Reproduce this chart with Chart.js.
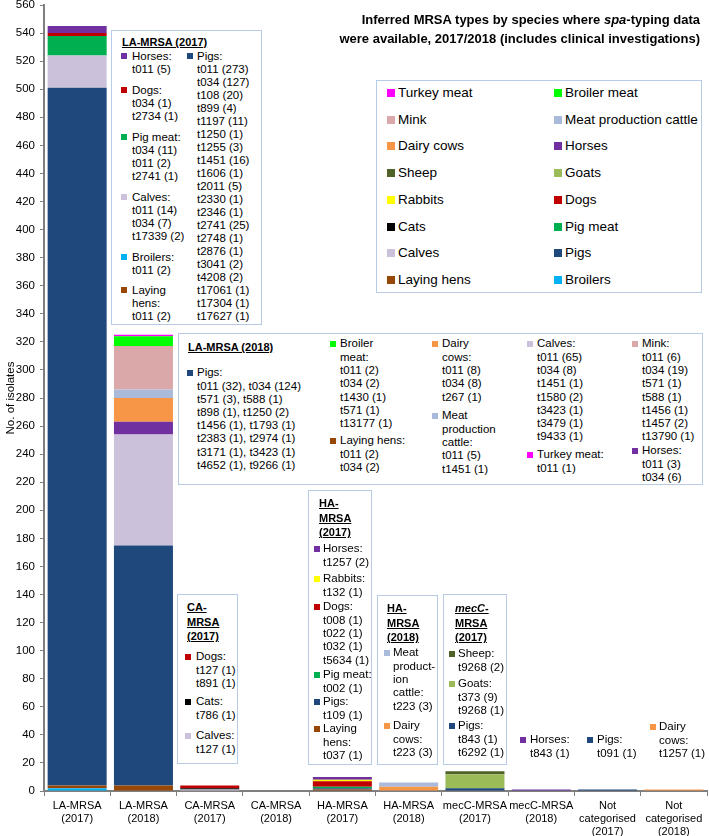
<!DOCTYPE html>
<html lang="en">
<head>
<meta charset="UTF-8">
<title>Inferred MRSA types by species, 2017/2018</title>
<script src="https://cdn.jsdelivr.net/npm/chart.js"></script>
<style>
  body { margin: 0; background: #fff; font-family: 'Liberation Sans', Arial, sans-serif; color: #000; }
  #wrap { position: relative; width: 709px; height: 836px; }
  canvas { position: absolute; left: 0; top: 0; }
  .box { position: absolute; border: 1.5px solid #b8cbe6; background: #fff; box-sizing: border-box; }
  .txt { position: absolute; white-space: nowrap; font-size: 11.5px; }
  .hd { position: absolute; white-space: nowrap; font-size: 11px; font-weight: bold; text-decoration: underline; line-height: 14px; }
  .sw { position: absolute; width: 6px; height: 6px; }
  .lg { position: absolute; white-space: nowrap; font-size: 13.5px; line-height: 16px; }
  .lsw { position: absolute; width: 8px; height: 8px; }
  #title { position: absolute; right: 9px; top: 10px; text-align: right; font-weight: bold; font-size: 13px; line-height: 19px; white-space: nowrap; }
</style>
</head>
<body>
<div id="wrap">
  <canvas id="chart" width="709" height="836"></canvas>
  <div id="title">Inferred MRSA types by species where <i>spa</i>-typing data<br>were available, 2017/2018 (includes clinical investigations)</div>
</div>
<script>
  // categories (x axis)
  const categories = [
    ['LA-MRSA', '(2017)'], ['LA-MRSA', '(2018)'], ['CA-MRSA', '(2017)'], ['CA-MRSA', '(2018)'],
    ['HA-MRSA', '(2017)'], ['HA-MRSA', '(2018)'], ['mecC-MRSA', '(2017)'], ['mecC-MRSA', '(2018)'],
    ['Not', 'categorised', '(2017)'], ['Not', 'categorised', '(2018)']
  ];

  // number of isolates per species (stack order, bottom first)
  const broilers    = [2, 0, 0, 0, 0, 0, 0, 0, 0, 0];
  const layingHens  = [2, 4, 0, 0, 1, 0, 0, 0, 0, 0];
  const pigs        = [497, 171, 0, 0, 1, 0, 2, 0, 1, 0];
  const calves      = [23, 79, 1, 0, 0, 0, 0, 0, 0, 0];
  const pigMeat     = [14, 0, 0, 0, 1, 0, 0, 0, 0, 0];
  const cats        = [0, 0, 1, 0, 0, 0, 0, 0, 0, 0];
  const dogs        = [2, 0, 2, 0, 4, 0, 0, 0, 0, 0];
  const rabbits     = [0, 0, 0, 0, 1, 0, 0, 0, 0, 0];
  const goats       = [0, 0, 0, 0, 0, 0, 10, 0, 0, 0];
  const sheep       = [0, 0, 0, 0, 0, 0, 2, 0, 0, 0];
  const horses      = [5, 9, 0, 0, 2, 0, 0, 1, 0, 0];
  const dairyCows   = [0, 17, 0, 0, 0, 3, 0, 0, 0, 1];
  const meatCattle  = [0, 6, 0, 0, 0, 3, 0, 0, 0, 0];
  const mink        = [0, 31, 0, 0, 0, 0, 0, 0, 0, 0];
  const broilerMeat = [0, 7, 0, 0, 0, 0, 0, 0, 0, 0];
  const turkeyMeat  = [0, 1, 0, 0, 0, 0, 0, 0, 0, 0];

  const yTicks = { min: 0, max: 560, step: 20 };

  const series = [
    ['Broilers', broilers, '#00B0F0'],
    ['Laying hens', layingHens, '#974706'],
    ['Pigs', pigs, '#1F497D'],
    ['Calves', calves, '#CCC1DA'],
    ['Pig meat', pigMeat, '#00B050'],
    ['Cats', cats, '#000000'],
    ['Dogs', dogs, '#C00000'],
    ['Rabbits', rabbits, '#FFFF00'],
    ['Goats', goats, '#9BBB59'],
    ['Sheep', sheep, '#4F6228'],
    ['Horses', horses, '#7030A0'],
    ['Dairy cows', dairyCows, '#F79646'],
    ['Meat production cattle', meatCattle, '#A9BADB'],
    ['Mink', mink, '#DAA8A8'],
    ['Broiler meat', broilerMeat, '#00FF00'],
    ['Turkey meat', turkeyMeat, '#FF00FF']
  ];
  const colorOf = {};
  series.forEach(s => { colorOf[s[0]] = s[2]; });

  const font = "'Liberation Sans', Arial, sans-serif";
  const axisGrey = '#7f7f7f';

  const chart = new Chart(document.getElementById('chart'), {
    type: 'bar',
    data: {
      labels: categories,
      datasets: series.map(([label, data, color]) => ({
        label, data, backgroundColor: color, borderWidth: 0,
        barPercentage: 0.89, categoryPercentage: 1
      }))
    },
    options: {
      responsive: false,
      animation: false,
      layout: { padding: { top: 5, right: 2, left: 0, bottom: 0 } },
      plugins: { legend: { display: false }, tooltip: { enabled: false } },
      scales: {
        x: {
          stacked: true,
          grid: { drawOnChartArea: false, drawTicks: true, tickLength: 5, color: axisGrey, offset: true },
          border: { display: true, color: axisGrey, width: 2 },
          ticks: { color: '#000', font: { family: font, size: 11, lineHeight: 1.2 }, maxRotation: 0, autoSkip: false, padding: 3 },
          afterFit: s => { s.height = 45; }
        },
        y: {
          stacked: true,
          min: yTicks.min, max: yTicks.max,
          ticks: { stepSize: yTicks.step, color: '#000', font: { family: font, size: 11.5 }, padding: 5 },
          grid: { drawOnChartArea: false, drawTicks: true, tickLength: 4, color: axisGrey },
          border: { display: true, color: axisGrey, width: 2 },
          title: { display: true, text: 'No. of isolates', color: '#000', font: { family: font, size: 11.5 }, padding: { top: 4, bottom: 0 } },
          afterFit: s => { s.width = 44; s.paddingTop = 0; s.paddingBottom = 0; }
        }
      }
    }
  });

  // ---- overlays: legend + text boxes ----
  const wrap = document.getElementById('wrap');
  function el(cls, x, y, html) {
    const d = document.createElement('div');
    d.className = cls;
    d.style.left = x + 'px';
    d.style.top = y + 'px';
    if (html !== undefined) d.innerHTML = html;
    wrap.appendChild(d);
    return d;
  }
  function box(x, y, w, h) {
    const d = el('box', x, y);
    d.style.width = w + 'px';
    d.style.height = h + 'px';
  }
  function heading(x, y, lines) {
    lines.forEach((t, i) => el('hd', x, y + i * 14.5 - 7, t));
  }
  // groups: [species, y of first line, ...lines]
  function block(sx, tx, groups, lh) {
    lh = lh || 13.3;
    groups.forEach(([name, y, ...lines]) => {
      const s = el('sw', sx, y - 3);
      s.style.background = colorOf[name];
      lines.forEach((t, i) => {
        const d = el('txt', tx, y + i * lh - lh / 2, t);
        d.style.lineHeight = lh + 'px';
      });
    });
  }

  // legend (reverse series order, two columns)
  box(376, 80, 326, 213);
  series.slice().reverse().forEach(([label, , color], i) => {
    const col = i % 2, row = Math.floor(i / 2);
    const cy = 93 + row * 26.7;
    const sx = col ? 554 : 387;
    const s = el('lsw', sx, cy - 4);
    s.style.background = color;
    el('lg', sx + 11, cy - 8, label);
  });

  // LA-MRSA (2017)
  box(111, 30, 151, 295);
  heading(122, 42, ['LA-MRSA (2017)']);
  block(121, 132, [
    ['Horses', 56, 'Horses:', 't011 (5)'],
    ['Dogs', 90, 'Dogs:', 't034 (1)', 't2734 (1)'],
    ['Pig meat', 137, 'Pig meat:', 't034 (11)', 't011 (2)', 't2741 (1)'],
    ['Calves', 197, 'Calves:', 't011 (14)', 't034 (7)', 't17339 (2)'],
    ['Broilers', 257, 'Broilers:', 't011 (2)'],
    ['Laying hens', 290, 'Laying', 'hens:', 't011 (2)']
  ], 13);
  block(187, 197, [
    ['Pigs', 56, 'Pigs:', 't011 (273)', 't034 (127)', 't108 (20)', 't899 (4)', 't1197 (11)', 't1250 (1)',
      't1255 (3)', 't1451 (16)', 't1606 (1)', 't2011 (5)', 't2330 (1)', 't2346 (1)', 't2741 (25)',
      't2748 (1)', 't2876 (1)', 't3041 (2)', 't4208 (2)', 't17061 (1)', 't17304 (1)', 't17627 (1)']
  ], 13);

  // LA-MRSA (2018)
  box(178, 333, 525, 152);
  heading(188, 347, ['LA-MRSA (2018)']);
  block(187, 197, [
    ['Pigs', 373, 'Pigs:', 't011 (32), t034 (124)', 't571 (3), t588 (1)', 't898 (1), t1250 (2)',
      't1456 (1), t1793 (1)', 't2383 (1), t2974 (1)', 't3171 (1), t3423 (1)', 't4652 (1), t9266 (1)']
  ], 13.2);
  block(330, 340, [
    ['Broiler meat', 344, 'Broiler', 'meat:', 't011 (2)', 't034 (2)', 't1430 (1)', 't571 (1)', 't13177 (1)'],
    ['Laying hens', 441, 'Laying hens:', 't011 (2)', 't034 (2)']
  ]);
  block(432, 442, [
    ['Dairy cows', 344, 'Dairy', 'cows:', 't011 (8)', 't034 (8)', 't267 (1)'],
    ['Meat production cattle', 416, 'Meat', 'production', 'cattle:', 't011 (5)', 't1451 (1)']
  ]);
  block(527, 537, [
    ['Calves', 344, 'Calves:', 't011 (65)', 't034 (8)', 't1451 (1)', 't1580 (2)', 't3423 (1)', 't3479 (1)', 't9433 (1)'],
    ['Turkey meat', 455, 'Turkey meat:', 't011 (1)']
  ]);
  block(632, 642, [
    ['Mink', 344, 'Mink:', 't011 (6)', 't034 (19)', 't571 (1)', 't588 (1)', 't1456 (1)', 't1457 (2)', 't13790 (1)'],
    ['Horses', 451, 'Horses:', 't011 (3)', 't034 (6)']
  ]);

  // CA-MRSA (2017)
  box(177, 594, 61, 170);
  heading(187, 607, ['CA-', 'MRSA', '(2017)']);
  block(185, 196, [
    ['Dogs', 657, 'Dogs:', 't127 (1)', 't891 (1)'],
    ['Cats', 702, 'Cats:', 't786 (1)'],
    ['Calves', 736, 'Calves:', 't127 (1)']
  ]);

  // HA-MRSA (2017)
  box(308, 490, 64, 275);
  heading(319, 503, ['HA-', 'MRSA', '(2017)']);
  block(314, 323, [
    ['Horses', 549, 'Horses:', 't1257 (2)'],
    ['Rabbits', 579, 'Rabbits:', 't132 (1)'],
    ['Dogs', 607, 'Dogs:', 't008 (1)', 't022 (1)', 't032 (1)', 't5634 (1)'],
    ['Pig meat', 675, 'Pig meat:', 't002 (1)'],
    ['Pigs', 702, 'Pigs:', 't109 (1)'],
    ['Laying hens', 729, 'Laying', 'hens:', 't037 (1)']
  ]);

  // HA-MRSA (2018)
  box(377, 595, 61, 170);
  heading(387, 608, ['HA-', 'MRSA', '(2018)']);
  block(384, 393, [
    ['Meat production cattle', 653, 'Meat', 'product-', 'ion', 'cattle:', 't223 (3)'],
    ['Dairy cows', 726, 'Dairy', 'cows:', 't223 (3)']
  ]);

  // mecC-MRSA (2017)
  box(443, 594, 64, 171);
  heading(455, 608, ['<i>mecC</i>-', 'MRSA', '(2017)']);
  block(449, 458, [
    ['Sheep', 654, 'Sheep:', 't9268 (2)'],
    ['Goats', 684, 'Goats:', 't373 (9)', 't9268 (1)'],
    ['Pigs', 726, 'Pigs:', 't843 (1)', 't6292 (1)']
  ]);

  // labels without a box
  block(520, 530, [['Horses', 740, 'Horses:', 't843 (1)']]);
  block(587, 597, [['Pigs', 740, 'Pigs:', 't091 (1)']]);
  block(650, 659, [['Dairy cows', 727, 'Dairy', 'cows:', 't1257 (1)']]);
</script>
</body>
</html>
